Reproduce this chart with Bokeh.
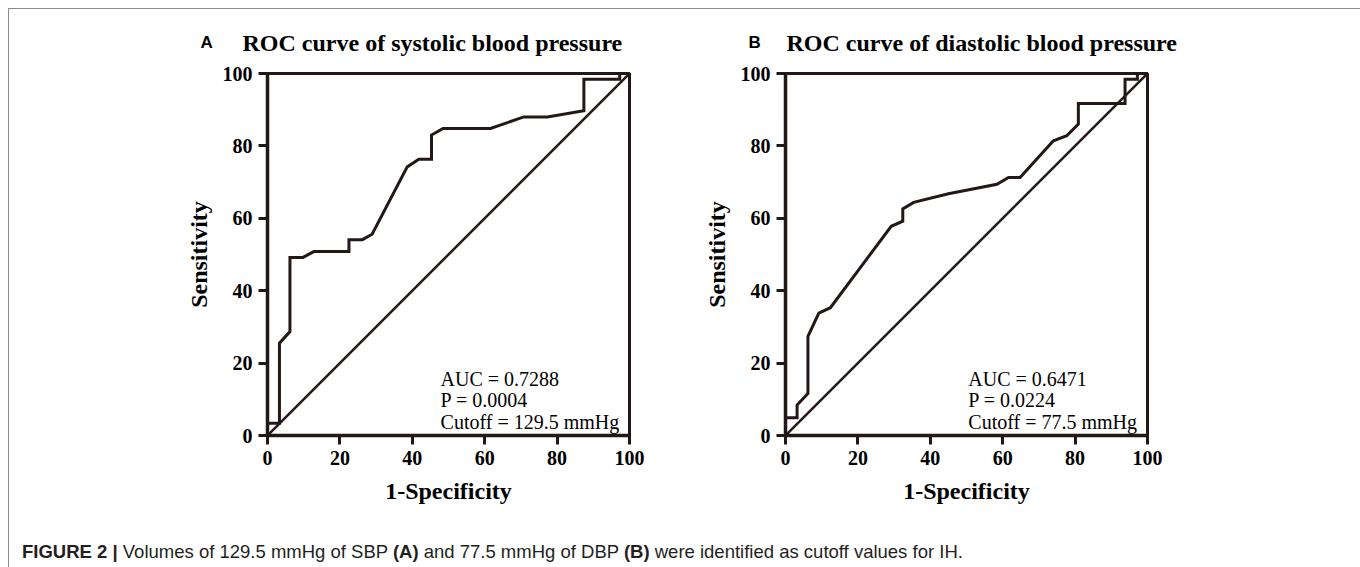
from bokeh.plotting import figure
from bokeh.models import Range1d, FixedTicker, Label, Div
from bokeh.layouts import row, column
from bokeh.embed import file_html
from bokeh.resources import INLINE

# ---------------- data ----------------
ticks = [0, 20, 40, 60, 80, 100]

sbp_fpr = [0, 0, 3.3, 3.3, 6.2, 6.2, 9.8, 12.8, 22.5, 22.5, 26.2, 28.9, 38.6, 41.8,
           45.3, 45.3, 48.5, 61.6, 70.8, 77.3, 87.4, 87.4, 97.3, 97.3, 100]
sbp_tpr = [0, 3.4, 3.4, 25.5, 28.7, 49.2, 49.2, 50.8, 50.8, 54.1, 54.1, 55.6, 74.2, 76.3,
           76.3, 83.0, 84.8, 84.8, 88.0, 88.0, 89.7, 98.4, 98.4, 100, 100]

dbp_fpr = [0, 0, 3.2, 3.2, 6.2, 6.2, 9.2, 12.4, 29.2, 32.4, 32.4, 35.4, 45.0, 58.4,
           61.6, 64.8, 74.0, 77.7, 80.9, 80.9, 93.8, 93.8, 97.2, 97.2, 100]
dbp_tpr = [0, 4.9, 4.9, 8.4, 11.6, 27.4, 33.8, 35.3, 57.8, 59.2, 62.6, 64.4, 66.8, 69.4,
           71.3, 71.3, 81.4, 82.8, 86.0, 91.7, 91.7, 98.4, 98.4, 100, 100]

chance_x = [0, 100]
chance_y = [0, 100]

panel_letters = ["A", "B"]
panel_titles = ["ROC curve of systolic blood pressure",
                "ROC curve of diastolic blood pressure"]
x_label = "1-Specificity"
y_label = "Sensitivity"
sbp_stats = ["AUC = 0.7288", "P = 0.0004", "Cutoff = 129.5 mmHg"]
dbp_stats = ["AUC = 0.6471", "P = 0.0224", "Cutoff = 77.5 mmHg"]
stats_y = [15.7, 9.7, 3.7]

caption_html = ('<b>FIGURE 2 |</b> Volumes of 129.5 mmHg of SBP <b>(A)</b> and 77.5 mmHg '
                'of DBP <b>(B)</b> were identified as cutoff values for IH.')

INK = "#231815"
SERIF = "Liberation Serif"
BORDER = "1px solid #8c8c8c"

# ---------------- header (panel titles) ----------------
hdr = figure(width=1342, height=50, x_range=Range1d(0, 1342), y_range=Range1d(50, 0),
             min_border=0, x_axis_location=None, y_axis_location=None,
             output_backend="svg", toolbar_location=None,
             background_fill_color="white", border_fill_color="white")
hdr.grid.visible = False
hdr.outline_line_color = None
for lx, tx, letter, title in zip([191, 739], [233, 777], panel_letters, panel_titles):
    hdr.add_layout(Label(x=lx, y=33, text=letter, text_font="Liberation Sans",
                         text_font_style="bold", text_font_size="17px",
                         text_color="black", text_baseline="alphabetic"))
    hdr.add_layout(Label(x=tx, y=33, text=title, text_font=SERIF,
                         text_font_style="bold", text_font_size="24px",
                         text_color="black", text_baseline="alphabetic"))


def make_panel(fpr, tpr, stats, stats_x, left, right):
    p = figure(frame_width=362, frame_height=362,
               min_border_left=left, min_border_right=right,
               min_border_top=14, min_border_bottom=80,
               x_range=Range1d(0, 100), y_range=Range1d(0, 100),
               output_backend="svg", toolbar_location=None,
               background_fill_color="white", border_fill_color="white")
    p.grid.visible = False
    p.outline_line_color = INK
    p.outline_line_width = 3
    p.outline_line_alpha = 1

    for ax in (p.xaxis[0], p.yaxis[0]):
        ax.ticker = FixedTicker(ticks=ticks)
        ax.axis_line_color = INK
        ax.axis_line_width = 3.5
        ax.major_tick_line_color = INK
        ax.major_tick_line_width = 3
        ax.major_tick_out = 9
        ax.major_tick_in = 0
        ax.minor_tick_line_color = None
        ax.major_label_text_font = SERIF
        ax.major_label_text_font_style = "bold"
        ax.major_label_text_font_size = "20px"
        ax.major_label_text_color = "black"
        ax.axis_label_text_font = SERIF
        ax.axis_label_text_font_style = "bold"
        ax.axis_label_text_font_size = "24px"
        ax.axis_label_text_color = "black"
    p.xaxis.axis_label = x_label
    p.yaxis.axis_label = y_label
    p.xaxis.major_label_standoff = 6
    p.yaxis.major_label_standoff = 6
    p.xaxis.axis_label_standoff = 10
    p.yaxis.axis_label_standoff = 8

    p.line(chance_x, chance_y, line_color=INK, line_width=2.5)
    p.line(fpr, tpr, line_color=INK, line_width=3, line_join="miter")

    for txt, yy in zip(stats, stats_y):
        p.add_layout(Label(x=stats_x, y=yy, text=txt, text_font=SERIF,
                           text_font_size="20px", text_color="black",
                           text_baseline="alphabetic"))
    return p


pA = make_panel(sbp_fpr, sbp_tpr, sbp_stats, 47.8, 258, 51)
pB = make_panel(dbp_fpr, dbp_tpr, dbp_stats, 50.5, 105, 204)

cap = Div(text='<div style="padding:19px 0 0 8px; font-family:\'Liberation Sans\'; '
               'font-size:18.5px; color:#231f20; white-space:nowrap;">' + caption_html + '</div>',
          width=1342, height=44)

root = column(hdr, row(pA, pB), cap,
              styles={"margin-left": "8px", "margin-top": "8px",
                      "border-top": BORDER, "border-left": BORDER, "border-right": BORDER})

open("out.html", "w").write(file_html(root, INLINE))
